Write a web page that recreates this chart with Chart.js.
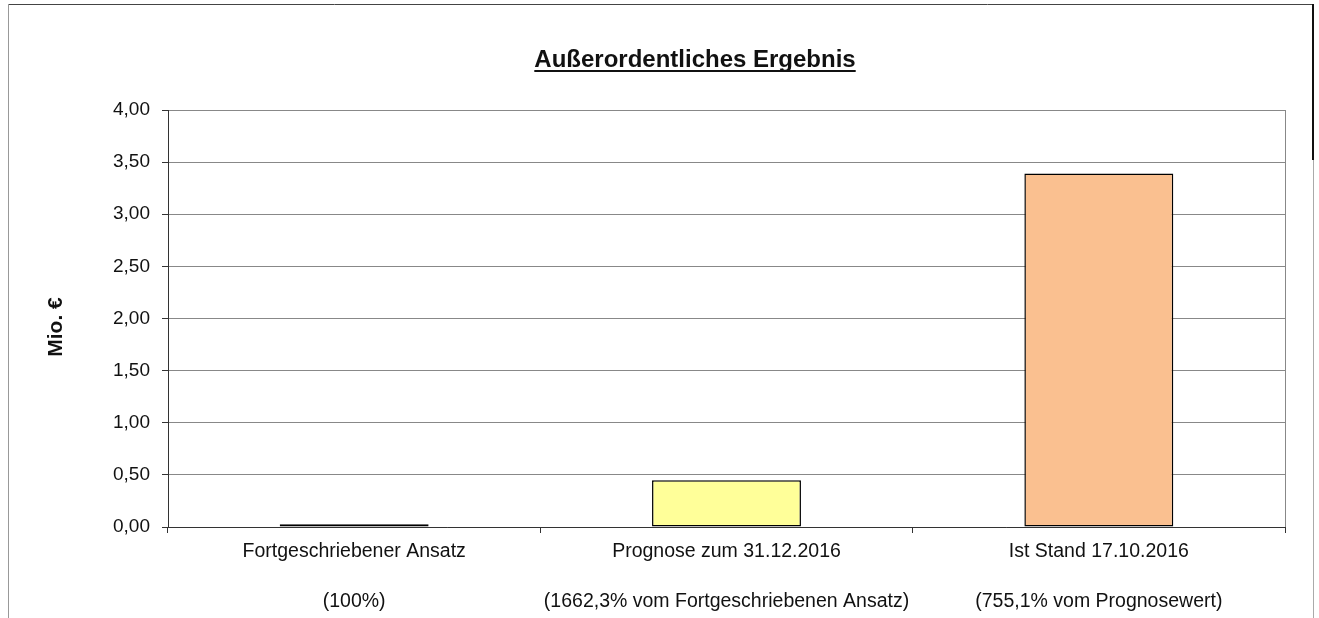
<!DOCTYPE html>
<html>
<head>
<meta charset="utf-8">
<script src="https://cdn.jsdelivr.net/npm/chart.js@4"></script>
<style>
html,body{margin:0;padding:0;background:#fff;}
#wrap{width:1319px;height:618px;position:relative;}
</style>
</head>
<body>
<div id="wrap"><canvas id="c" width="1319" height="618"></canvas></div>
<script>
const chartTitle = "Außerordentliches Ergebnis";
const yAxisTitle = "Mio. €";
const categories = [
  ["Fortgeschriebener Ansatz", "", "(100%)"],
  ["Prognose zum 31.12.2016", "", "(1662,3% vom Fortgeschriebenen Ansatz)"],
  ["Ist Stand 17.10.2016", "", "(755,1% vom Prognosewert)"]
];
const values = [0.027, 0.449, 3.39];
const barColors = ["#333366", "#ffff99", "#fac090"];
const yTicks = [0, 0.5, 1, 1.5, 2, 2.5, 3, 3.5, 4];

const FONT = "'Liberation Sans', Arial, sans-serif";

const decor = {
  id: 'decor',
  beforeDraw(chart) {
    const ctx = chart.ctx;
    ctx.save();
    ctx.fillStyle = '#fff';
    ctx.fillRect(0, 0, chart.width, chart.height);
    ctx.lineWidth = 1;
    ctx.strokeStyle = '#444';
    ctx.beginPath(); ctx.moveTo(8, 4.5); ctx.lineTo(1314, 4.5); ctx.stroke();
    ctx.strokeStyle = '#999';
    ctx.beginPath(); ctx.moveTo(8.5, 4); ctx.lineTo(8.5, 618); ctx.stroke();
    ctx.strokeStyle = '#111';
    ctx.lineWidth = 2;
    ctx.beginPath(); ctx.moveTo(1313, 4); ctx.lineTo(1313, 160); ctx.stroke();
    ctx.strokeStyle = '#aaa';
    ctx.lineWidth = 1;
    ctx.beginPath(); ctx.moveTo(1313.5, 160); ctx.lineTo(1313.5, 618); ctx.stroke();
    ctx.restore();
  },
  afterDraw(chart) {
    const ctx = chart.ctx;
    const a = chart.chartArea;
    ctx.save();
    ctx.strokeStyle = '#888';
    ctx.lineWidth = 1;
    ctx.beginPath(); ctx.moveTo(Math.round(a.right) + 0.5, a.top); ctx.lineTo(Math.round(a.right) + 0.5, a.bottom); ctx.stroke();
    // title
    ctx.font = "bold 24px " + FONT;
    ctx.fillStyle = '#111';
    ctx.textAlign = 'center';
    ctx.textBaseline = 'alphabetic';
    const tx = 695, ty = 67;
    ctx.fillText(chartTitle, tx, ty);
    const w = ctx.measureText(chartTitle).width;
    ctx.fillRect(tx - w / 2, ty + 3, w, 2);
    // y axis title
    ctx.translate(56, 327);
    ctx.rotate(-Math.PI / 2);
    ctx.font = "bold 21px " + FONT;
    ctx.textBaseline = 'middle';
    ctx.fillText(yAxisTitle, 0, 0);
    ctx.restore();
  }
};

new Chart(document.getElementById('c'), {
  type: 'bar',
  data: {
    labels: categories,
    datasets: [{
      data: values,
      backgroundColor: barColors,
      borderColor: '#000',
      borderWidth: 1.5,
      borderSkipped: false,
      categoryPercentage: 1,
      barPercentage: 0.4
    }]
  },
  options: {
    responsive: false,
    animation: false,
    devicePixelRatio: 1,
    layout: { padding: { left: 0, top: 110, right: 34, bottom: 0 } },
    plugins: { legend: { display: false }, title: { display: false }, tooltip: { enabled: false } },
    scales: {
      x: {
        offset: true,
        grid: { offset: true, drawOnChartArea: false, drawTicks: true, tickLength: 6, color: '#333', tickColor: '#333' },
        border: { color: '#333', width: 1 },
        ticks: { color: '#111', font: { family: FONT, size: 19.5, lineHeight: 1.28 }, padding: 6, maxRotation: 0, autoSkip: false },
        afterFit(s) { s.height = 91; }
      },
      y: {
        min: 0, max: 4,
        afterBuildTicks(s) { s.ticks = yTicks.map(v => ({ value: v })); },
        grid: { color: '#888', tickColor: '#333', tickLength: 6, drawTicks: true },
        border: { color: '#333', width: 1 },
        ticks: {
          color: '#111', font: { family: FONT, size: 19 }, padding: 12,
          callback: v => v.toFixed(2).replace('.', ',')
        },
        afterFit(s) { s.width = 168; }
      }
    }
  },
  plugins: [decor]
});
</script>
</body>
</html>
